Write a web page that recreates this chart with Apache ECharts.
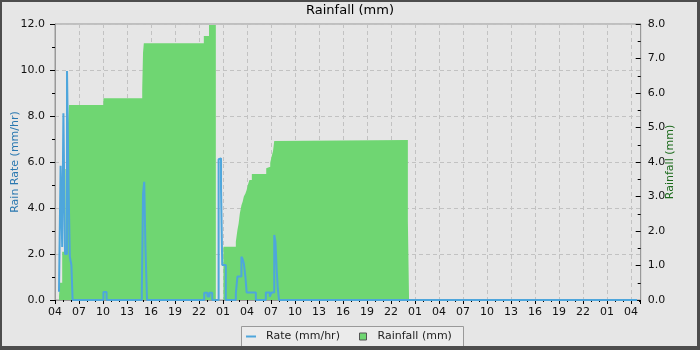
<!DOCTYPE html>
<html>
<head>
<meta charset="utf-8">
<script src="https://cdn.jsdelivr.net/npm/echarts@6/dist/echarts.min.js"></script>
<style>
html,body{margin:0;padding:0;background:#e6e6e6;}
#c{width:700px;height:350px;}
</style>
</head>
<body>
<div id="c"></div>
<script>
// hours measured from 04:00 of the first day
const startHour = 4;
const xMax = 73.2;

// Rain rate (mm/hr), step values [hour, value]
const rateHours = [0.5, 0.7, 0.9, 1.05, 1.25, 1.5, 1.7, 1.85, 2.05, 2.2,
  6.05, 6.45,
  10.85, 11.0, 11.15, 11.3, 11.5,
  18.65, 19.05, 19.3, 19.65,
  20.45, 20.6, 20.75, 20.9, 21.35,
  22.6, 22.8, 23.3, 23.45, 23.6, 23.8, 23.95, 25.1,
  26.35, 26.85, 27.05, 27.4, 27.55, 27.7, 27.85, 28.0,
  72.75];
const rateValues = [0.36, 5.84, 2.3, 8.12, 2.0, 9.96, 4.86, 1.88, 1.52, 0,
  0.35, 0,
  0.36, 4.6, 5.14, 2.35, 0,
  0.32, 0.15, 0.32, 0,
  6.12, 6.16, 4.86, 1.52, 0,
  0.29, 1.02, 1.88, 1.78, 1.59, 1.0, 0.33, 0,
  0.33, 0.14, 0.33, 2.83, 2.55, 1.36, 0.48, 0,
  0];

// Daily rainfall (mm), step values [hour, value]
const rainHours = [0.5, 0.6, 0.9, 1.3, 1.6, 1.75, 6.05, 10.9, 11.0, 11.1, 18.6, 19.25, 20.1,
  21.05, 22.6, 22.8, 22.95, 23.1, 23.3, 23.45, 23.6, 23.8, 23.95, 24.1, 24.3, 24.6,
  26.4, 26.5, 26.9, 27.05, 27.25, 27.4, 27.5, 44.1, 44.25];
const rainValues = [0.1, 0.5, 1.4, 3.8, 5.0, 5.65, 5.85, 6.12, 7.16, 7.44, 7.65, 7.97, 0,
  1.545, 1.69, 2.03, 2.22, 2.51, 2.75, 2.85, 3.0, 3.09, 3.19, 3.33, 3.48, 3.65,
  3.82, 3.86, 3.98, 4.14, 4.32, 4.61, 4.64, 2.30, 0];

const rateData = rateHours.map((h, i) => [h, rateValues[i]]);
const rainData = rainHours.map((h, i) => [h, rainValues[i]]);

const FONT = 'DejaVu Sans';
const chart = echarts.init(document.getElementById('c'), null, {renderer: 'canvas'});
chart.setOption({
  animation: false,
  backgroundColor: '#e6e6e6',
  textStyle: {fontFamily: FONT},
  title: {
    text: 'Rainfall (mm)', left: 'center', top: 4, padding: 0,
    textStyle: {fontFamily: FONT, fontSize: 13, fontWeight: 'normal', color: '#000'}
  },
  grid: {left: 55, right: 59.3, top: 24, bottom: 50, containLabel: false, outerBoundsMode: 'none',
    show: true, borderColor: '#999', borderWidth: 1, backgroundColor: 'transparent'},
  legend: [{
    data: [{name: 'Rate (mm/hr)', icon: 'rect'}],
    left: 246, top: 331, padding: 0, itemWidth: 10, itemHeight: 2,
    textStyle: {fontFamily: FONT, fontSize: 11, color: '#222', padding: [0, 0, 0, 5]},
    selectedMode: false
  }, {
    data: [{name: 'Rainfall (mm)', icon: 'rect', itemStyle: {color: '#6fd672', borderColor: '#555', borderWidth: 1}}],
    left: 359, top: 331, padding: 0, itemWidth: 7, itemHeight: 7,
    textStyle: {fontFamily: FONT, fontSize: 11, color: '#222', padding: [0, 0, 0, 6]},
    selectedMode: false
  }],
  graphic: [
    {type: 'rect', z: -1, shape: {x: 241.5, y: 326.5, width: 222, height: 22}, style: {fill: '#ebebeb', stroke: '#999', lineWidth: 1}},
    {type: 'rect', z: 100, shape: {x: 0, y: 0, width: 700, height: 2}, style: {fill: '#4d4d4d'}},
    {type: 'rect', z: 100, shape: {x: 0, y: 0, width: 2, height: 350}, style: {fill: '#4d4d4d'}},
    {type: 'rect', z: 100, shape: {x: 697, y: 0, width: 3, height: 350}, style: {fill: '#4d4d4d'}},
    {type: 'rect', z: 100, shape: {x: 0, y: 346, width: 700, height: 4}, style: {fill: '#4d4d4d'}}
  ],
  xAxis: {
    type: 'value', min: 0, max: xMax, interval: 3,
    axisLine: {show: true, lineStyle: {color: '#999'}},
    axisTick: {show: true, length: 4, lineStyle: {color: '#000'}},
    minorTick: {show: true, splitNumber: 3, length: 2, lineStyle: {color: '#000'}},
    splitLine: {show: true, lineStyle: {color: '#c2c2c2', type: [4, 3]}},
    axisLabel: {
      margin: 7, fontSize: 11, color: '#111', fontFamily: FONT, showMaxLabel: false,
      formatter: v => { const hh = (startHour + Math.round(v)) % 24; return (hh < 10 ? '0' : '') + hh; }
    }
  },
  yAxis: [{
    type: 'value', min: 0, max: 12, interval: 2, position: 'left',
    name: 'Rain Rate (mm/hr)', nameLocation: 'middle', nameGap: 34, nameRotate: 90, nameMoveOverlap: false,
    nameTextStyle: {color: '#2a78b0', fontSize: 11, fontFamily: FONT},
    axisLine: {show: true, lineStyle: {color: '#999'}},
    axisTick: {show: true, length: 5, lineStyle: {color: '#000'}},
    minorTick: {show: true, splitNumber: 2, length: 3, lineStyle: {color: '#000'}},
    splitLine: {show: true, lineStyle: {color: '#c2c2c2', type: [4, 3]}},
    axisLabel: {margin: 10, fontSize: 11, color: '#111', fontFamily: FONT, formatter: v => v.toFixed(1)}
  }, {
    type: 'value', min: 0, max: 8, interval: 1, position: 'right',
    name: 'Rainfall (mm)', nameLocation: 'middle', nameGap: 24, nameRotate: 90, nameMoveOverlap: false,
    nameTextStyle: {color: '#1d6b1d', fontSize: 11, fontFamily: FONT},
    axisLine: {show: true, lineStyle: {color: '#999'}},
    axisTick: {show: true, inside: true, length: 5, lineStyle: {color: '#000'}},
    minorTick: {show: true, splitNumber: 2, length: 3, lineStyle: {color: '#000'}},
    splitLine: {show: false},
    axisLabel: {margin: 7, fontSize: 11, color: '#111', fontFamily: FONT, formatter: v => v.toFixed(1)}
  }],
  series: [{
    name: 'Rainfall (mm)', type: 'line', yAxisIndex: 1, step: 'end',
    data: rainData, showSymbol: false, color: '#6fd672',
    lineStyle: {width: 0},
    areaStyle: {color: '#6fd672', opacity: 1},
    z: 2
  }, {
    name: 'Rate (mm/hr)', type: 'line', yAxisIndex: 0, step: 'end',
    data: rateData, showSymbol: false, color: '#4ea6dc',
    lineStyle: {width: 2, color: '#4ea6dc'},
    z: 3
  }]
});
</script>
</body>
</html>
